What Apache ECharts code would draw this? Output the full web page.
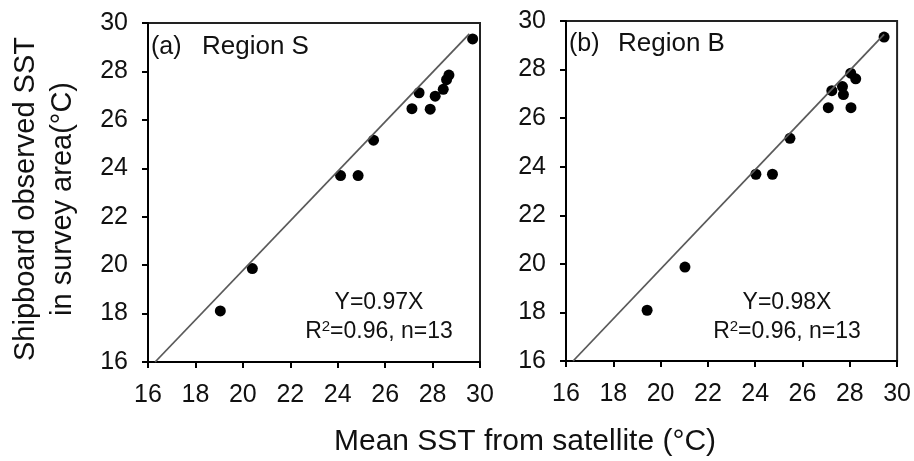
<!DOCTYPE html>
<html>
<head>
<meta charset="utf-8">
<script src="https://cdn.jsdelivr.net/npm/echarts@6/dist/echarts.min.js"></script>
<style>
  html, body { margin: 0; padding: 0; background: #fff; }
  #main { width: 914px; height: 461px; }
</style>
</head>
<body>
<div id="main"></div>
<script>
// satellite SST (x) vs shipboard SST (y)
var satA  = [19.05, 20.40, 24.12, 24.86, 25.51, 27.13, 27.43, 27.90, 28.11, 28.45, 28.59, 28.69, 29.69];
var shipA = [18.11, 19.86, 23.70, 23.70, 25.16, 26.46, 27.12, 26.44, 26.98, 27.26, 27.66, 27.85, 29.34];
var satB  = [19.43, 21.03, 24.03, 24.73, 25.47, 27.09, 27.24, 27.69, 27.73, 28.05, 28.04, 28.25, 29.45];
var shipB = [18.09, 19.87, 23.69, 23.69, 25.17, 26.43, 27.13, 27.30, 26.97, 26.43, 27.85, 27.62, 29.34];
// fitted line end points
var fitLineA = [[16.3, 16], [29.55, 29.55]];
var fitLineB = [[16.3, 16], [29.45, 29.45]];
// axis range
var axisMin = 16, axisMax = 30, axisStep = 2;
var panelTitles = ['(a)', '(b)'];
var regionNames = ['Region S', 'Region B'];
var eqTexts = ['Y=0.97X', 'Y=0.98X'];
var statTexts = ['=0.96, n=13', '=0.96, n=13'];

function pairs(xs, ys){
  var out = [];
  for(var i = 0; i < xs.length; i++){
    out.push([xs[i], ys[i]]);
  }
  return out;
}

var FONT = '"Liberation Sans", Arial, sans-serif';

function makeXAxis(idx){
  return {
    type: 'value', gridIndex: idx,
    min: axisMin, max: axisMax, interval: axisStep,
    splitLine: {show: false},
    axisLine: {lineStyle: {color: '#000', width: 2}},
    axisTick: {length: 6, lineStyle: {color: '#000', width: 2}},
    axisLabel: {fontSize: 25, color: '#111', margin: 21, fontFamily: FONT}
  };
}
function makeYAxis(idx){
  return {
    type: 'value', gridIndex: idx,
    min: axisMin, max: axisMax, interval: axisStep,
    splitLine: {show: false},
    axisLine: {lineStyle: {color: '#000', width: 2}},
    axisTick: {length: 6, lineStyle: {color: '#000', width: 2}},
    axisLabel: {fontSize: 25, color: '#111', margin: 20, fontFamily: FONT}
  };
}

function txt(x, y, s, size, align, rot){
  return {
    type: 'text', x: x, y: y, rotation: rot || 0,
    style: {
      text: s, fill: '#111', font: size + 'px ' + FONT,
      textAlign: align || 'left', textVerticalAlign: 'middle', lineHeight: 37
    }
  };
}
// R^2 line with a real superscript
function statTxt(x, y, s){
  return {
    type: 'text', x: x, y: y,
    style: {
      text: '{r|R}{s|2}{r|' + s + '}',
      textAlign: 'center', textVerticalAlign: 'middle', fill: '#111',
      rich: {
        r: {fontSize: 23, fontFamily: FONT, color: '#111', lineHeight: 26},
        s: {fontSize: 15, fontFamily: FONT, color: '#111', verticalAlign: 'top', lineHeight: 14}
      }
    }
  };
}

var chart = echarts.init(document.getElementById('main'), null, {renderer: 'canvas'});
chart.setOption({
  backgroundColor: '#fff',
  animation: false,
  grid: [
    {left: 148, top: 23, width: 332, height: 339, show: true, borderColor: '#222', borderWidth: 2, backgroundColor: 'transparent'},
    {left: 566, top: 21, width: 332, height: 340, show: true, borderColor: '#222', borderWidth: 2, backgroundColor: 'transparent'}
  ],
  xAxis: [makeXAxis(0), makeXAxis(1)],
  yAxis: [makeYAxis(0), makeYAxis(1)],
  series: [
    {type: 'line', xAxisIndex: 0, yAxisIndex: 0, data: fitLineA, showSymbol: false, silent: true,
     lineStyle: {color: '#5a5a5a', width: 1.8}},
    {type: 'scatter', xAxisIndex: 0, yAxisIndex: 0, data: pairs(satA, shipA), symbolSize: 11,
     itemStyle: {color: '#000', opacity: 1}},
    {type: 'line', xAxisIndex: 1, yAxisIndex: 1, data: fitLineB, showSymbol: false, silent: true,
     lineStyle: {color: '#5a5a5a', width: 1.8}},
    {type: 'scatter', xAxisIndex: 1, yAxisIndex: 1, data: pairs(satB, shipB), symbolSize: 11,
     itemStyle: {color: '#000', opacity: 1}}
  ],
  graphic: [
    txt(151, 47, panelTitles[0], 25),
    txt(202, 47, regionNames[0], 26),
    txt(569, 44, panelTitles[1], 25),
    txt(618, 44, regionNames[1], 26),
    txt(379, 303, eqTexts[0], 23, 'center'),
    statTxt(379, 332, statTexts[0]),
    txt(787, 303, eqTexts[1], 23, 'center'),
    statTxt(787, 332, statTexts[1]),
    txt(44, 199, 'Shipboard observed SST\nin survey area(\u00b0C)', 29, 'center', Math.PI / 2),
    txt(525, 442, 'Mean SST from satellite (\u00b0C)', 30, 'center')
  ]
});
</script>
</body>
</html>
